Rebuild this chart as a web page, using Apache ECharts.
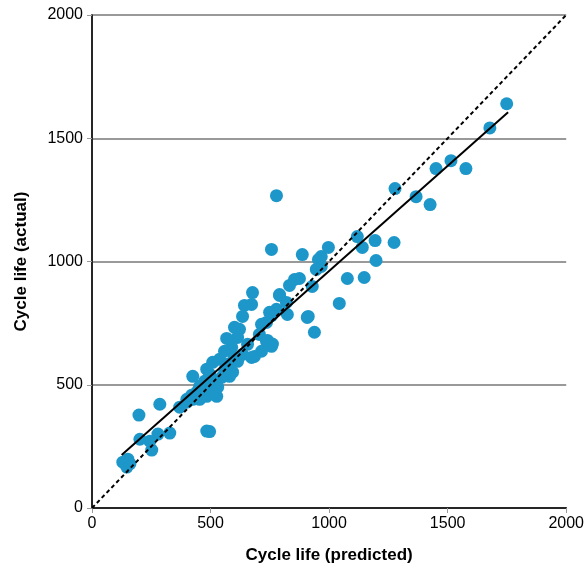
<!DOCTYPE html>
<html>
<head>
<meta charset="utf-8">
<script src="https://cdn.jsdelivr.net/npm/echarts@6/dist/echarts.min.js"></script>
<style>
  html, body { margin: 0; padding: 0; background: #fff; }
  #chart { width: 587px; height: 569px; }
</style>
</head>
<body>
<div id="chart"></div>
<script>
// predicted vs actual cycle life
const predicted = [
  1749, 1678, 1577, 1514, 1451, 1426, 1367, 1278, 1274, 1194, 1198, 1140, 1119, 1148, 1077,
  1043, 997, 967, 955, 967, 946, 938, 929, 912, 908, 887, 875, 854, 833, 824, 820, 791, 791,
  778, 778, 757, 749, 736, 715, 715, 706, 736, 757, 677, 673, 643, 635, 622, 601, 614, 589,
  568, 559, 538, 509, 484, 496, 425, 593, 580, 572, 454, 442, 526, 484, 454, 400, 420, 475,
  517, 547, 530, 496, 685, 673, 656, 635, 614, 757, 761, 740, 370, 400, 425, 454, 484, 496,
  328, 286, 278, 244, 202, 198, 252, 151, 130, 147, 160, 515, 560, 600, 465, 440
];
const actual = [
  1640, 1542, 1377, 1409, 1377, 1231, 1263, 1296, 1077, 1085, 1004, 1057, 1101, 935, 931,
  830, 1057, 1020, 1008, 980, 968, 713, 899, 777, 773, 1028, 931, 927, 903, 785, 834, 866, 862,
  1267, 806, 1049, 794, 753, 745, 636, 704, 676, 656, 874, 826, 822, 777, 725, 733, 692, 652,
  688, 636, 603, 591, 563, 543, 534, 551, 534, 583, 494, 470, 453, 453, 441, 441, 457, 514,
  502, 530, 490, 474, 615, 611, 664, 623, 595, 780, 665, 680, 409, 429, 441, 449, 312, 310,
  304, 421, 300, 271, 279, 377, 235, 198, 186, 166, 180, 520, 560, 610, 480, 460
];
const fitLine = [[125, 215], [1755, 1605]];
const identityLine = [[0, 0], [2000, 2000]];
const ticks = [0, 500, 1000, 1500, 2000];

const points = predicted.map((p, i) => [p, actual[i]]);
const font = '"Liberation Sans", Arial, sans-serif';
const plain = v => String(v);

const chart = echarts.init(document.getElementById('chart'));
chart.setOption({
  animation: false,
  grid: { left: 92, right: 20, top: 15, bottom: 60 },
  xAxis: [{
    type: 'value', min: ticks[0], max: ticks[ticks.length - 1], interval: 500,
    name: 'Cycle life (predicted)', nameLocation: 'middle', nameGap: 39,
    nameTextStyle: { fontFamily: font, fontSize: 17, fontWeight: 'bold', color: '#000' },
    axisLine: { lineStyle: { color: '#999', width: 2 } },
    axisTick: { show: true, length: 5, lineStyle: { color: '#999' } },
    axisLabel: { fontFamily: font, fontSize: 16, color: '#000', margin: 8, formatter: plain },
    splitLine: { show: false }
  }, {
    type: 'value', position: 'top', min: 0, max: 2000,
    axisLine: { show: true, lineStyle: { color: '#000', width: 1.5 } },
    axisTick: { show: false }, axisLabel: { show: false }, splitLine: { show: false }
  }],
  yAxis: [{
    type: 'value', min: ticks[0], max: ticks[ticks.length - 1], interval: 500,
    name: 'Cycle life (actual)', nameLocation: 'middle', nameGap: 62,
    nameTextStyle: { fontFamily: font, fontSize: 17, fontWeight: 'bold', color: '#000' },
    axisLine: { show: true, lineStyle: { color: '#999', width: 2 } },
    axisTick: { show: true, length: 5, lineStyle: { color: '#999' } },
    axisLabel: { fontFamily: font, fontSize: 16, color: '#000', margin: 9, formatter: plain },
    splitLine: { show: true, lineStyle: { color: '#999', width: 2 } }
  }, {
    type: 'value', position: 'right', min: 0, max: 2000,
    axisLine: { show: true, lineStyle: { color: '#000', width: 1.5 } },
    axisTick: { show: false }, axisLabel: { show: false }, splitLine: { show: false }
  }],
  series: [{
    type: 'scatter',
    data: points,
    symbolSize: 13,
    itemStyle: { color: '#1d97c9', opacity: 1 },
    z: 2
  }, {
    type: 'line',
    data: identityLine,
    symbol: 'none',
    lineStyle: { color: '#000', width: 2, type: [4, 3] },
    z: 3
  }, {
    type: 'line',
    data: fitLine,
    symbol: 'none',
    lineStyle: { color: '#000', width: 2 },
    z: 4
  }]
});
</script>
</body>
</html>
